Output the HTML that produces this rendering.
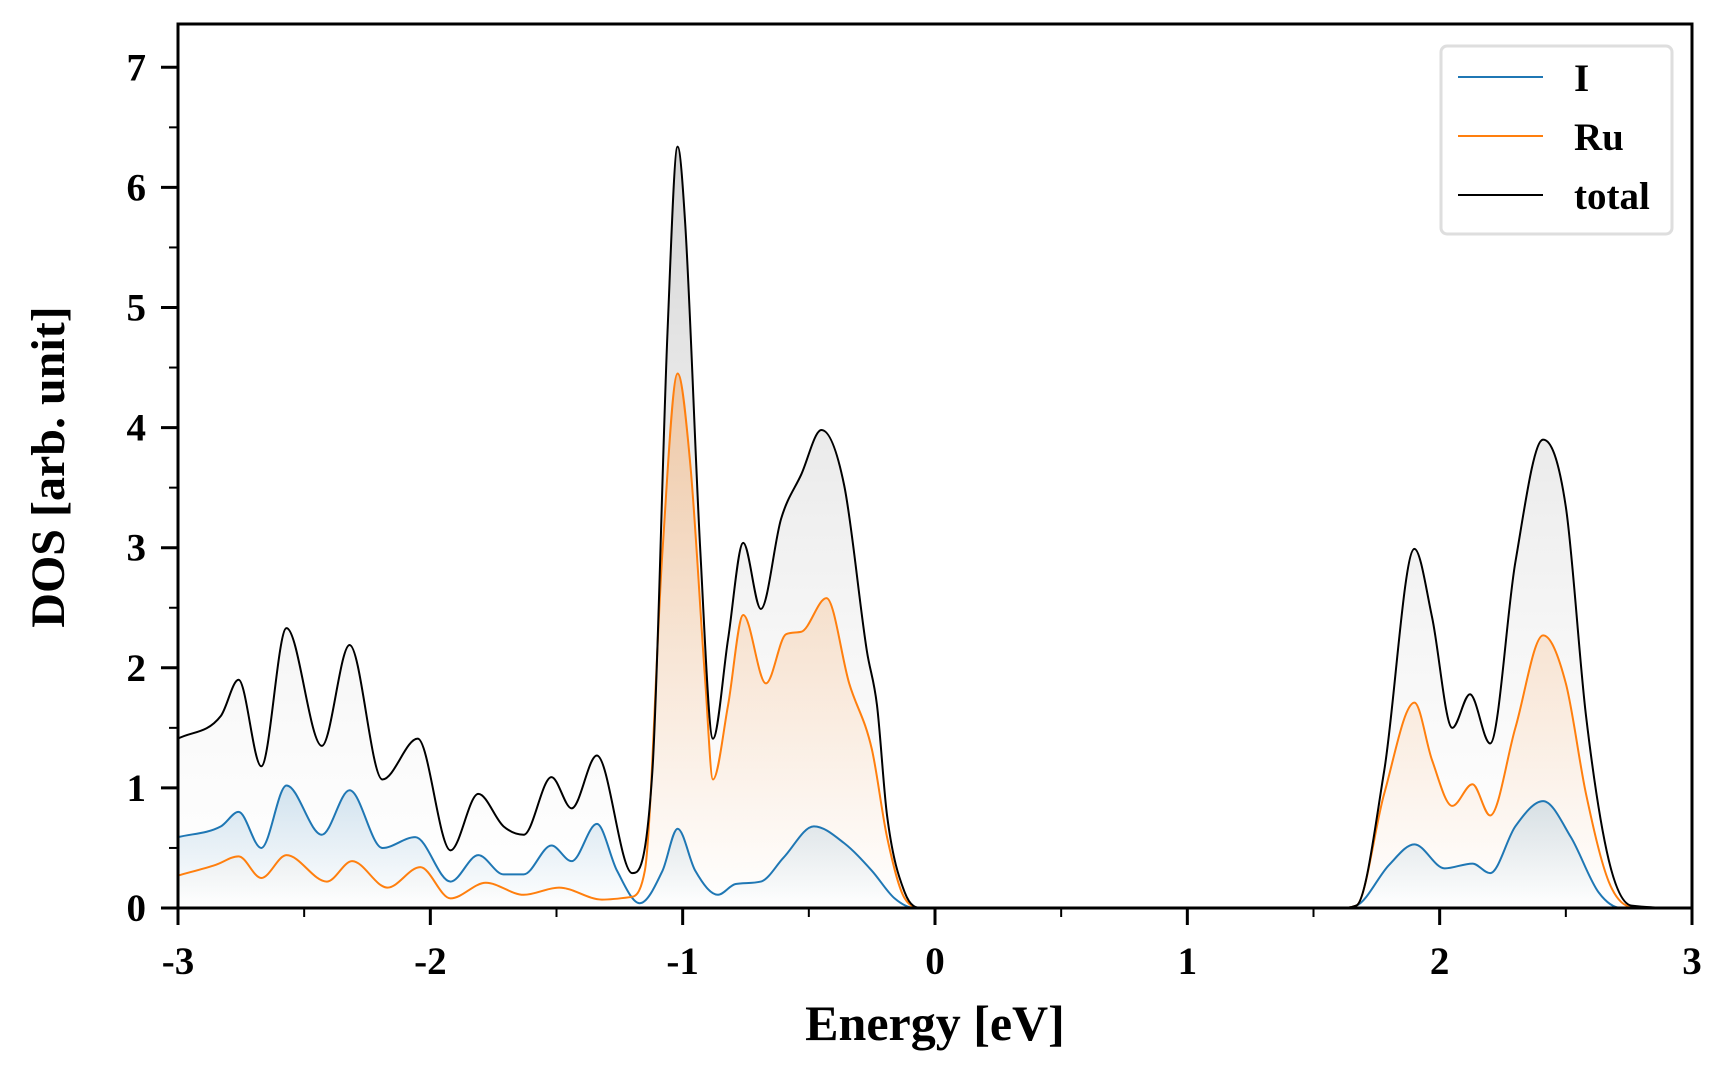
<!DOCTYPE html>
<html><head><meta charset="utf-8"><style>
html,body{margin:0;padding:0;background:#fff}
svg text{font-family:"Liberation Serif",serif;font-weight:bold;fill:#000}
</style></head><body>
<svg id="chart" width="1728" height="1080" viewBox="0 0 1728 1080" xmlns="http://www.w3.org/2000/svg">
<defs>
<linearGradient id="gTot" gradientUnits="userSpaceOnUse" x1="0" y1="140" x2="0" y2="908"><stop offset="0" stop-color="#c8c8c8" stop-opacity="0.8"/><stop offset="1" stop-color="#ffffff" stop-opacity="0.3"/></linearGradient>
<linearGradient id="gRu" gradientUnits="userSpaceOnUse" x1="0" y1="370" x2="0" y2="908"><stop offset="0" stop-color="#ff7f0e" stop-opacity="0.3"/><stop offset="1" stop-color="#ff7f0e" stop-opacity="0.0"/></linearGradient>
<linearGradient id="gI" gradientUnits="userSpaceOnUse" x1="0" y1="780" x2="0" y2="908"><stop offset="0" stop-color="#1f77b4" stop-opacity="0.2"/><stop offset="1" stop-color="#1f77b4" stop-opacity="0.0"/></linearGradient>
</defs>
<g id="plot"></g>
<g id="axes"></g>
<g>
<rect x="1441" y="46" width="231" height="188" rx="6" fill="#fff" stroke="#dedede" stroke-width="3"/>
<line x1="1458" y1="77" x2="1543" y2="77" stroke="#1f77b4" stroke-width="2"/>
<text x="1574" y="91" font-size="39">I</text>
<line x1="1458" y1="136" x2="1543" y2="136" stroke="#ff7f0e" stroke-width="2"/>
<text x="1574" y="150" font-size="39">Ru</text>
<line x1="1458" y1="195" x2="1543" y2="195" stroke="#000" stroke-width="2"/>
<text x="1574" y="209" font-size="39">total</text>
</g>
<text x="935" y="1040" font-size="50" text-anchor="middle">Energy [eV]</text>
<text transform="translate(64,467) rotate(-90)" font-size="48" text-anchor="middle">DOS [arb. unit]</text>
</svg>
<script>
const totalE=[-3,-2.83,-2.76,-2.67,-2.57,-2.43,-2.32,-2.19,-2.05,-1.92,-1.81,-1.71,-1.63,-1.52,-1.44,-1.34,-1.2,-1.12,-1.06,-1.02,-0.99,-0.93,-0.88,-0.82,-0.76,-0.69,-0.61,-0.53,-0.45,-0.36,-0.27,-0.23,-0.19,-0.12,-0.05,0,1,1.6,1.67,1.78,1.9,1.97,2.05,2.12,2.2,2.3,2.41,2.5,2.58,2.67,2.76,3];
const totalDos=[1.41,1.6,1.9,1.18,2.33,1.35,2.19,1.07,1.41,0.48,0.95,0.68,0.61,1.09,0.83,1.27,0.29,1.14,4.8,6.34,5.7,2.97,1.41,2.24,3.04,2.49,3.24,3.61,3.98,3.52,2.14,1.69,0.77,0.13,0,0,0,0,0.02,1.14,2.99,2.42,1.5,1.78,1.37,2.88,3.9,3.34,1.6,0.4,0.02,0];
const ruE=[-3,-2.85,-2.76,-2.67,-2.57,-2.41,-2.31,-2.17,-2.04,-1.92,-1.78,-1.63,-1.49,-1.32,-1.21,-1.15,-1.08,-1.02,-0.97,-0.91,-0.88,-0.82,-0.76,-0.67,-0.59,-0.53,-0.43,-0.34,-0.25,-0.19,-0.12,-0.05,0,1,1.6,1.67,1.78,1.9,1.97,2.05,2.13,2.2,2.3,2.41,2.5,2.58,2.67,2.76,3];
const ruDos=[0.27,0.36,0.43,0.25,0.44,0.22,0.39,0.17,0.34,0.08,0.21,0.11,0.17,0.07,0.09,0.31,2.97,4.45,3.7,1.87,1.07,1.69,2.44,1.87,2.28,2.3,2.58,1.87,1.32,0.59,0.08,0,0,0,0,0.02,0.95,1.71,1.23,0.85,1.03,0.77,1.5,2.27,1.87,0.95,0.22,0.01,0];
const iE=[-3,-2.83,-2.76,-2.67,-2.57,-2.43,-2.32,-2.19,-2.06,-1.92,-1.81,-1.71,-1.63,-1.52,-1.44,-1.34,-1.26,-1.17,-1.08,-1.02,-0.95,-0.86,-0.79,-0.69,-0.6,-0.48,-0.36,-0.25,-0.16,-0.08,0,1,1.6,1.67,1.8,1.9,2.02,2.13,2.2,2.3,2.41,2.52,2.63,2.72,3];
const iDos=[0.59,0.68,0.8,0.5,1.02,0.61,0.98,0.5,0.59,0.22,0.44,0.28,0.28,0.52,0.39,0.7,0.31,0.04,0.31,0.66,0.31,0.11,0.2,0.22,0.42,0.68,0.54,0.31,0.08,0,0,0,0,0.02,0.36,0.53,0.33,0.37,0.29,0.68,0.89,0.59,0.13,0,0];
const xTicks=[-3,-2,-1,0,1,2,3];
const yTicks=[0,1,2,3,4,5,6,7];

const L=178,R=1692,T=24,B=908;
const xs=v=>L+(v+3)/6*(R-L);
const ys=v=>B-v*120.1;
const NS="http://www.w3.org/2000/svg";
function mk(tag,attrs,parent){const e=document.createElementNS(NS,tag);for(const k in attrs)e.setAttribute(k,attrs[k]);parent.appendChild(e);return e;}
function mono(X,Y){
  const n=X.length,px=X.map(xs),py=Y.map(ys);
  const d=[],m=[];
  for(let i=0;i<n-1;i++)d.push((py[i+1]-py[i])/(px[i+1]-px[i]));
  for(let i=0;i<n;i++){
    if(i===0)m.push(d[0]);else if(i===n-1)m.push(d[n-2]);
    else m.push(d[i-1]*d[i]<=0?0:(d[i-1]+d[i])/2);
  }
  for(let i=0;i<n-1;i++){
    if(d[i]===0){m[i]=0;m[i+1]=0;continue;}
    const a=m[i]/d[i],b=m[i+1]/d[i],s=a*a+b*b;
    if(s>9){const t=3/Math.sqrt(s);m[i]=t*a*d[i];m[i+1]=t*b*d[i];}
  }
  let p="M"+px[0]+","+py[0];
  for(let i=0;i<n-1;i++){const h=(px[i+1]-px[i])/3;
    p+=` C${px[i]+h},${py[i]+m[i]*h} ${px[i+1]-h},${py[i+1]-m[i+1]*h} ${px[i+1]},${py[i+1]}`;}
  return p;
}
const plot=document.getElementById('plot');
const series=[[totalE,totalDos,'#000','url(#gTot)','total'],[ruE,ruDos,'#ff7f0e','url(#gRu)','ru'],[iE,iDos,'#1f77b4','url(#gI)','i']];
series.forEach(s=>{
  const line=mono(s[0],s[1]);
  const f=mk('path',{d:line+` L${xs(3)},${B} L${xs(-3)},${B} Z`,fill:s[3],stroke:'none'},plot);
  
  
});
series.slice().reverse().forEach(s=>{
  const l=mk('path',{d:mono(s[0],s[1]),fill:'none',stroke:s[2],'stroke-width':2},plot);
  
  
});
const ax=document.getElementById('axes');
const fr=mk('rect',{x:L,y:T,width:R-L,height:B-T,fill:'none',stroke:'#000','stroke-width':3},ax);


xTicks.forEach(v=>{
  const t=mk('line',{x1:xs(v),x2:xs(v),y1:B,y2:B+17,stroke:'#000','stroke-width':3},ax);
  
  
  const lb=mk('text',{x:xs(v),y:974,'font-size':39,'text-anchor':'middle'},ax);lb.textContent=v;
  
  
  if(v<3){const m=mk('line',{x1:xs(v+0.5),x2:xs(v+0.5),y1:B,y2:B+9,stroke:'#000','stroke-width':2},ax);
    
    }
});
yTicks.forEach(v=>{
  const t=mk('line',{x1:L-17,x2:L,y1:ys(v),y2:ys(v),stroke:'#000','stroke-width':3},ax);
  
  
  const lb=mk('text',{x:146,y:ys(v)+13,'font-size':39,'text-anchor':'end'},ax);lb.textContent=v;
  
  
  if(ys(v+0.5)>T){const m=mk('line',{x1:L-9,x2:L,y1:ys(v+0.5),y2:ys(v+0.5),stroke:'#000','stroke-width':2},ax);
  
  }
});
</script>
</body></html>
